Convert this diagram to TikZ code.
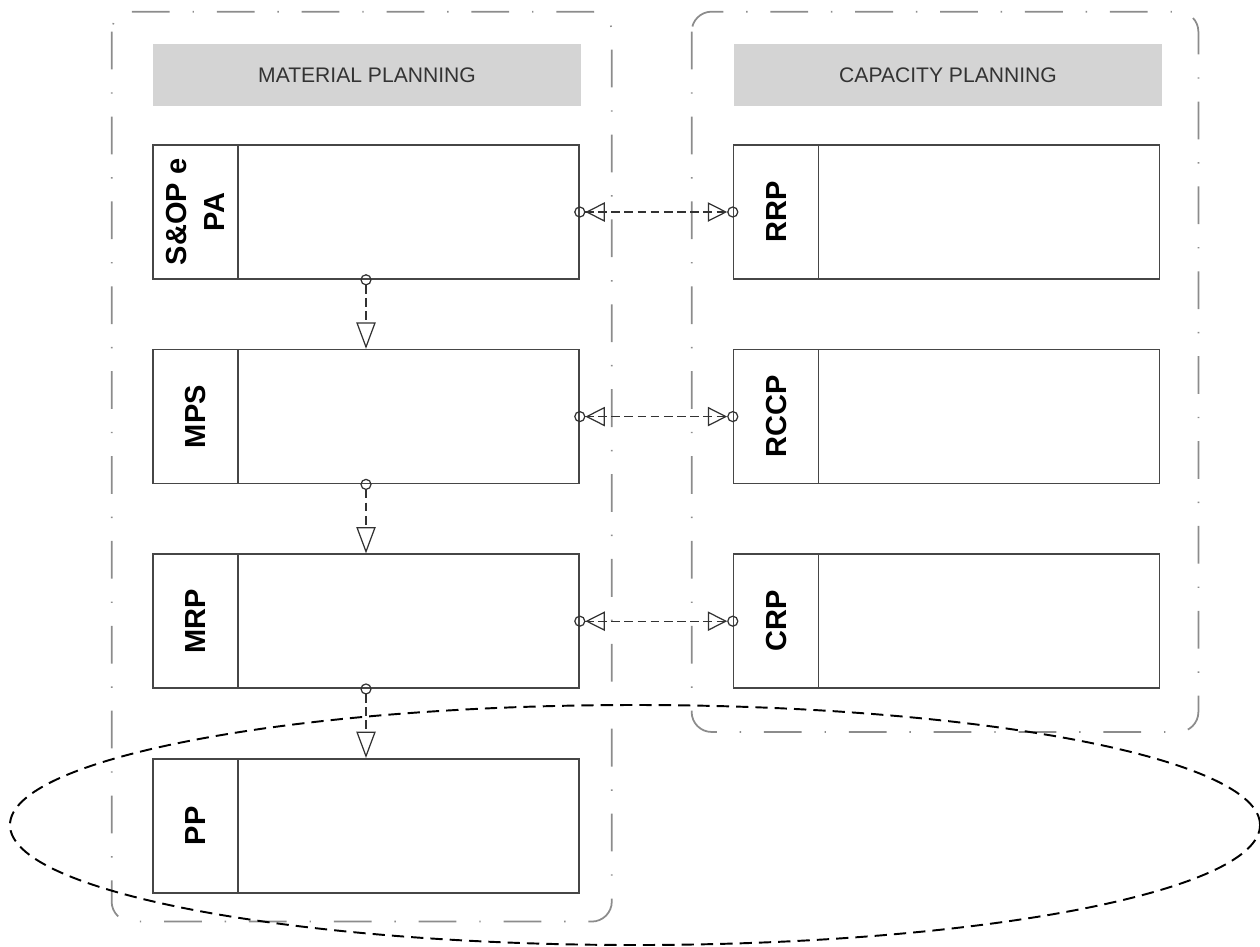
\documentclass[tikz,border=0pt]{standalone}
\usepackage{fontspec}
\setmainfont{Liberation Sans}
\usepackage{xcolor}
\usepackage{tikz}
\usetikzlibrary{positioning,calc,arrows.meta,backgrounds}
\definecolor{HeaderGray}{RGB}{212,212,212}
\definecolor{FrameGray}{RGB}{140,140,140}
\definecolor{BoxLine}{RGB}{70,70,70}
\definecolor{LinkGray}{RGB}{50,50,50}

\begin{document}
\begin{tikzpicture}[
  x=0.2mm, y=-0.2mm,
  node distance=13.8mm and 30.6mm,
  frame/.style={draw=FrameGray, line width=1pt, rounded corners=4mm, dash pattern=on 21.5pt off 13pt on 0.8pt off 13pt},
  header/.style={rectangle, fill=HeaderGray, minimum width=85.6mm, minimum height=12.4mm, text=black!80, font=\fontsize{12}{14}\selectfont},
  block/.style={rectangle, draw=BoxLine, fill=white, line width=0.9pt, minimum width=85.2mm, minimum height=26.8mm, inner sep=0pt},
  cell/.style={rectangle, draw=BoxLine, line width=0.9pt, rotate=90, anchor=north, minimum width=26.8mm, minimum height=17mm, inner sep=0pt, align=center, font=\fontsize{16.5}{22}\selectfont\bfseries},
  flow/.style={draw=LinkGray, line width=0.7pt, dash pattern=on 5pt off 2.5pt, shorten <=-3.2pt, {Circle[open,length=6.4pt]}-{Triangle[open,length=15pt,width=11pt]}},
  link/.style={draw=LinkGray, line width=0.7pt, dash pattern=on 5pt off 2.5pt, shorten <=-3.2pt, shorten >=-3.2pt, {Circle[open,length=6.4pt]Triangle[open,length=11pt,width=11pt]}-{Triangle[open,length=11pt,width=11pt]Circle[open,length=6.4pt]}},
  focus/.style={draw=black, line width=1.1pt, dash pattern=on 7pt off 4pt}
]
  \useasboundingbox (0,0) rectangle (1260,946);

  % Headers
  \node[header] (matH) at (367,75) {MATERIAL PLANNING};
  \node[header] (capH) at (948,75) {CAPACITY PLANNING};

  % Nodes
  \node[block] (sop) at (366,212) {};
  \node[cell] (sopL) at (sop.west) {S\&OP e\\PA};
  \node[block, below=of sop] (mps) {};
  \node[cell] (mpsL) at (mps.west) {MPS};
  \node[block, below=of mps] (mrp) {};
  \node[cell] (mrpL) at (mrp.west) {MRP};
  \node[block, below=of mrp] (pp) {};
  \node[cell] (ppL) at (pp.west) {PP};

  \node[block, right=of sop] (rrp) {};
  \node[cell] (rrpL) at (rrp.west) {RRP};
  \node[block, right=of mps] (rccp) {};
  \node[cell] (rccpL) at (rccp.west) {RCCP};
  \node[block, right=of mrp] (crp) {};
  \node[cell] (crpL) at (crp.west) {CRP};

  % Lines / Arrows
  \draw[flow] (sop.south) -- (mps.north);
  \draw[flow] (mps.south) -- (mrp.north);
  \draw[flow] (mrp.south) -- (pp.north);
  \draw[link] (sop.east) -- (rrp.west);
  \draw[link] (mps.east) -- (rccp.west);
  \draw[link] (mrp.east) -- (crp.west);

  % Frames using calc
  \begin{scope}[on background layer]
    \draw[frame] ($(matH.north west)+(-41,-32)$) rectangle ($(pp.south east)+(32,28)$);
    \draw[frame] ($(capH.north west)+(-42,-32)$) rectangle ($(crp.south east)+(38,43)$);
  \end{scope}

  % Dashed ellipse
  \draw[focus] (635,825) ellipse [x radius=125mm, y radius=24mm];
\end{tikzpicture}
\end{document}
